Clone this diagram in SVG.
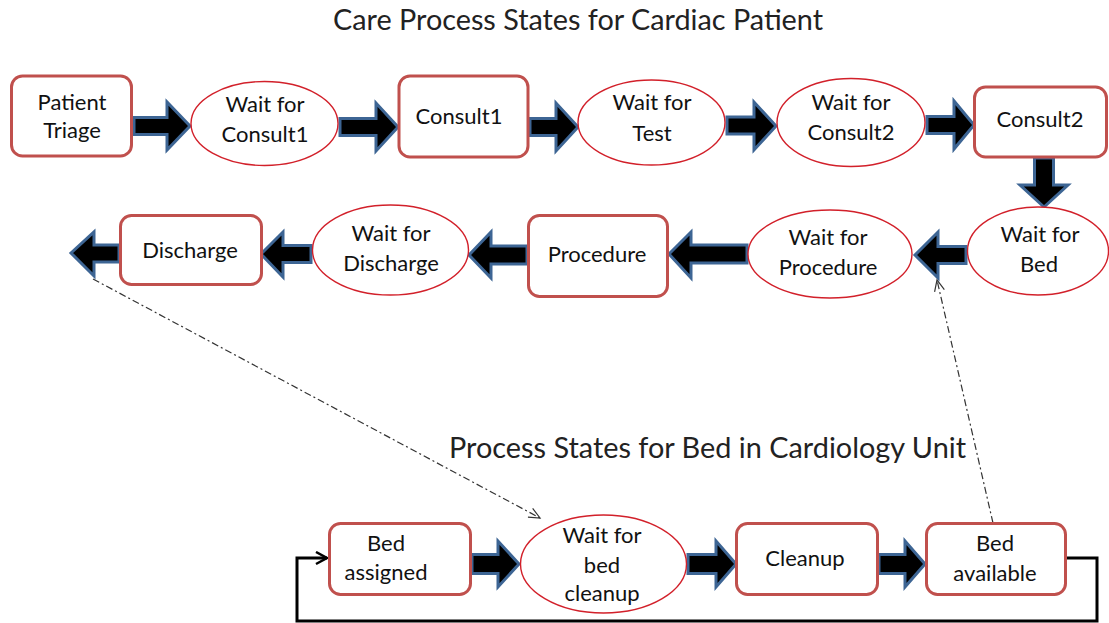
<svg xmlns="http://www.w3.org/2000/svg" width="1109" height="623" viewBox="0 0 1109 623">
<defs>
<style>
.bg{fill:#ffffff}
.rn{fill:#ffffff;stroke:#c0504d;stroke-width:3}
.el{fill:#ffffff;stroke:#d2202a;stroke-width:1.4}
.ba{fill:#000000;stroke:#3d6594;stroke-width:3;stroke-linejoin:miter}
.t{font-family:Lato,"Liberation Sans",sans-serif;font-size:22px;fill:#111111;text-anchor:middle}
.ttl{font-family:Lato,"Liberation Sans",sans-serif;font-size:28px;fill:#222222}
.dd{fill:none;stroke:#333333;stroke-width:1.2;stroke-dasharray:7,3,2,3}
.loop{fill:none;stroke:#000000;stroke-width:3}
</style>
<marker id="open" markerWidth="14" markerHeight="14" refX="12" refY="6" orient="auto" markerUnits="userSpaceOnUse">
<path d="M1,1 L12,6 L1,11" fill="none" stroke="#333333" stroke-width="1.2"/>
</marker>
<marker id="openb" markerWidth="16" markerHeight="16" refX="13" refY="7" orient="auto" markerUnits="userSpaceOnUse">
<path d="M2,1 L13,7 L2,13" fill="none" stroke="#000000" stroke-width="2.5"/>
</marker>
</defs>
<rect class="bg" x="0" y="0" width="1109" height="623"/>
<text class="ttl" x="333" y="30" textLength="490" lengthAdjust="spacingAndGlyphs">Care Process States for Cardiac Patient</text>
<text class="ttl" x="449" y="458" textLength="517" lengthAdjust="spacingAndGlyphs">Process States for Bed in Cardiology Unit</text>

<g id="connectors">
<polygon class="ba" points="134,117.5 167,117.5 167,102 190,126 167,150 167,134.5 134,134.5"/>
<polygon class="ba" points="340,118.5 376,118.5 376,103 398,127 376,151 376,135.5 340,135.5"/>
<polygon class="ba" points="530,118.5 556,118.5 556,103 578,127 556,151 556,135.5 530,135.5"/>
<polygon class="ba" points="727,117 754,117 754,102 776,126 754,150 754,134 727,134"/>
<polygon class="ba" points="927,116.5 954,116.5 954,101 974,125 954,149 954,133.5 927,133.5"/>
<polygon class="ba" points="1034.5,158 1034.5,185 1020,185 1044,207 1068,185 1053.5,185 1053.5,158"/>
<polygon class="ba" points="966,246.5 938,246.5 938,232 915,255 938,278 938,263.5 966,263.5"/>
<polygon class="ba" points="747,245 691,245 691,232 669,254 691,278 691,263 747,263"/>
<polygon class="ba" points="527,246 491,246 491,232 469,255 491,278 491,264 527,264"/>
<polygon class="ba" points="311,245.5 283,245.5 283,232 261,254 283,277 283,262.5 311,262.5"/>
<polygon class="ba" points="119,245 94,245 94,232 71,253 94,276 94,262 119,262"/>
<polygon class="ba" points="472,554.5 498,554.5 498,541 519,564 498,587 498,573.5 472,573.5"/>
<polygon class="ba" points="688,554.5 716,554.5 716,541 736,564 716,587 716,573.5 688,573.5"/>
<polygon class="ba" points="879,554.5 905,554.5 905,541 925,564 905,587 905,573.5 879,573.5"/>
<path class="dd" d="M93,279 L540,518" marker-end="url(#open)"/>
<path class="dd" d="M993,523 L937,280" marker-end="url(#open)"/>
<path class="loop" d="M1067,558 H1097 V621 H297 V558 H327" marker-end="url(#openb)"/>
</g>

<g id="patient-triage"><rect class="rn" x="11.5" y="76" width="120" height="80" rx="11"/>
<text class="t" x="72" y="110">Patient</text><text class="t" x="72" y="138">Triage</text></g>
<g id="wait-consult1"><ellipse class="el" cx="264.5" cy="123.5" rx="73.5" ry="42"/>
<text class="t" x="265" y="112">Wait for</text><text class="t" x="265" y="142">Consult1</text></g>
<g id="consult1"><rect class="rn" x="399" y="76" width="129" height="81" rx="11"/>
<text class="t" x="459" y="124">Consult1</text></g>
<g id="wait-test"><ellipse class="el" cx="651.5" cy="122.5" rx="73.5" ry="42.5"/>
<text class="t" x="652" y="110">Wait for</text><text class="t" x="652" y="141">Test</text></g>
<g id="wait-consult2"><ellipse class="el" cx="851" cy="122.5" rx="74" ry="44"/>
<text class="t" x="851" y="110">Wait for</text><text class="t" x="851" y="140">Consult2</text></g>
<g id="consult2"><rect class="rn" x="974.5" y="87" width="132" height="70" rx="11"/>
<text class="t" x="1040" y="127">Consult2</text></g>
<g id="wait-bed"><ellipse class="el" cx="1038" cy="251" rx="70.5" ry="44"/>
<text class="t" x="1040" y="242">Wait for</text><text class="t" x="1039" y="272">Bed</text></g>
<g id="wait-procedure"><ellipse class="el" cx="830" cy="254" rx="82" ry="44"/>
<text class="t" x="828" y="245">Wait for</text><text class="t" x="828" y="275">Procedure</text></g>
<g id="procedure"><rect class="rn" x="528.5" y="215.5" width="139" height="81" rx="11"/>
<text class="t" x="597" y="262">Procedure</text></g>
<g id="wait-discharge"><ellipse class="el" cx="390.5" cy="250" rx="78" ry="45"/>
<text class="t" x="391" y="241">Wait for</text><text class="t" x="391" y="271">Discharge</text></g>
<g id="discharge"><rect class="rn" x="120.5" y="215.5" width="141" height="69" rx="11"/>
<text class="t" x="190" y="258">Discharge</text></g>
<g id="bed-assigned"><rect class="rn" x="329.5" y="523.5" width="141" height="71" rx="11"/>
<text class="t" x="386" y="551">Bed</text><text class="t" x="386" y="580">assigned</text></g>
<g id="wait-bed-cleanup"><ellipse class="el" cx="603.5" cy="564" rx="83" ry="49"/>
<text class="t" x="602" y="543">Wait for</text><text class="t" x="602" y="573">bed</text><text class="t" x="602" y="601">cleanup</text></g>
<g id="cleanup"><rect class="rn" x="736.5" y="523.5" width="141" height="71" rx="11"/>
<text class="t" x="805" y="566">Cleanup</text></g>
<g id="bed-available"><rect class="rn" x="926.5" y="523.5" width="139" height="71" rx="11"/>
<text class="t" x="995" y="551">Bed</text><text class="t" x="995" y="581">available</text></g>
</svg>
